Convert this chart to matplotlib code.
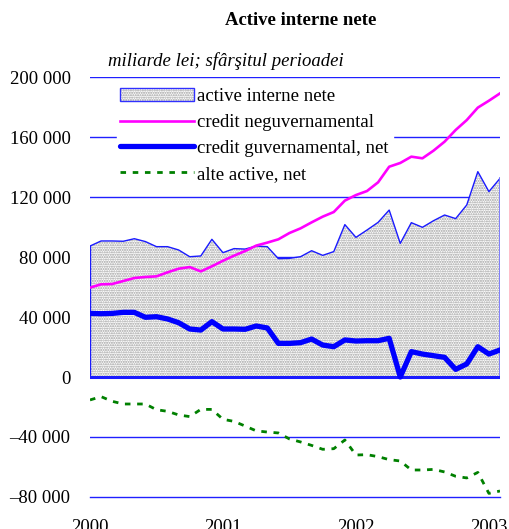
import numpy as np
import matplotlib
matplotlib.use("Agg")
import matplotlib.pyplot as plt
import matplotlib.patches as mpatches
from matplotlib.lines import Line2D
from matplotlib.legend_handler import HandlerTuple
from matplotlib.ticker import FuncFormatter

# monthly data, Jan 2000 .. Feb 2003 (miliarde lei)
active_interne = [87300, 90700, 90700, 90500, 92200, 90300, 86900, 86900, 84700, 80200,
                  80700, 91800, 82900, 85600, 85300, 87300, 86900, 78900, 79100, 80200,
                  84200, 81100, 83600, 101600, 93100, 98000, 103100, 111300, 89100, 102900,
                  99800, 104200, 108000, 105600, 114700, 136900, 123600, 132400]
credit_neguv = [59600, 61800, 62000, 64000, 66000, 66700, 67100, 69800, 72200, 73300,
                70400, 73800, 77500, 80900, 84000, 87600, 89600, 91800, 96000, 99100,
                103100, 106900, 110000, 117600, 121300, 124000, 129800, 140200, 142700, 146900,
                145800, 150900, 156900, 164700, 171300, 179600, 184200, 189100]
credit_guv = [42400, 42200, 42400, 43100, 43100, 39800, 40200, 38700, 36200, 32000,
              31300, 36900, 32000, 32000, 31800, 34000, 32700, 22400, 22400, 22900,
              25300, 21300, 20200, 24700, 24000, 24200, 24200, 25800, 0, 16900,
              15300, 14200, 13100, 5100, 8700, 20200, 15300, 18000]
alte_active = [-15300, -13100, -16200, -18000, -18000, -18000, -21800, -22900, -25300, -26400,
               -21600, -21600, -28200, -29600, -32700, -35900, -36700, -37300, -41300, -43300,
               -45600, -48200, -47800, -42000, -52000, -51800, -53100, -55100, -56000, -62000,
               -62000, -61600, -63300, -66200, -67300, -63600, -77600, -76000]
years = ["2000", "2001", "2002", "2003"]
labels = ["active interne nete", "credit neguvernamental",
          "credit guvernamental, net", "alte active, net"]

plt.rcParams['font.family'] = ['Liberation Serif', 'DejaVu Serif']
plt.rcParams['hatch.linewidth'] = 1.0

x = np.arange(len(active_interne))
HATCH = "......."
HATCH_C = "#9c9c9c"

fig = plt.figure(figsize=(5.09, 5.29), dpi=100)
ax = fig.add_axes([0.1768, 0.0605, 0.8055, 0.7939])

# area
ax.fill_between(x, 0, active_interne, facecolor="white", edgecolor=HATCH_C,
                hatch=HATCH, linewidth=0, zorder=2)
ax.plot(x, active_interne, color="#1a1aff", lw=1.0, zorder=3)
ax.plot([x[0], x[0]], [0, active_interne[0]], color="#1a1aff", lw=1.0, zorder=3)
ax.plot([x[-1], x[-1]], [0, active_interne[-1]], color="#7777ff", lw=2.0, zorder=3)
ax.axhline(0, color="#1a1aff", lw=2.2, zorder=3)

ax.plot(x, credit_neguv, color="#ff00ff", lw=1.9, zorder=4)
ax.plot(x, credit_guv, color="#0000ff", lw=3.8, zorder=5, solid_joinstyle="round")
ax.plot(x, alte_active, color="#008000", lw=2.0, linestyle=(0, (2.0, 2.4)), zorder=4)

ax.set_xlim(x[0], x[-1])
ax.set_ylim(-80000, 200000)
ax.set_yticks(np.arange(-80000, 200001, 40000))
ax.yaxis.set_major_formatter(FuncFormatter(
    lambda v, p: ("\u2013" if v < 0 else "") + f"{abs(int(v)):,}".replace(",", " ")))
ax.set_xticks([0, 12, 24, 36])
ax.set_xticklabels(years)
ax.tick_params(axis="y", length=0, pad=14, labelsize=13.5)
ax.tick_params(axis="x", length=0, pad=16, labelsize=13.5)
ax.grid(axis="y", color="#2020ff", lw=1.0)
ax.set_axisbelow(True)
# bottom gridline sits on the axes edge, keep it whole
ax.get_ygridlines()[0].set_clip_on(False)
for s in ax.spines.values():
    s.set_visible(False)

area_h = (mpatches.Patch(facecolor="white", edgecolor=HATCH_C, hatch=HATCH, lw=0),
          mpatches.Patch(facecolor="none", edgecolor="#3030ff", lw=1.0))
handles = [area_h,
           Line2D([], [], color="#ff00ff", lw=1.9),
           Line2D([], [], color="#0000ff", lw=3.8, solid_capstyle="round"),
           Line2D([], [], color="#008000", lw=2.0, linestyle=(0, (2.0, 2.4)))]
leg = ax.legend(handles, labels, loc="upper left", bbox_to_anchor=(0.065, 0.982),
                frameon=True, fancybox=False, framealpha=1, edgecolor="white",
                fontsize=13.5, handlelength=3.9, handleheight=0.7, labelspacing=0.46,
                handletextpad=0.2, borderpad=0.2, borderaxespad=0,
                handler_map={tuple: HandlerTuple(ndivide=1, pad=0)})
# legend sits over the grid but under the data lines
leg.set_zorder(3.5)

fig.text(0.59, 0.962, "Active interne nete", ha="center", va="center",
         fontsize=13.5, fontweight="bold")
fig.text(0.212, 0.884, "miliarde lei; sfârşitul perioadei", ha="left", va="center",
         fontsize=13.5, style="italic")

fig.savefig("out.png", dpi=100)
